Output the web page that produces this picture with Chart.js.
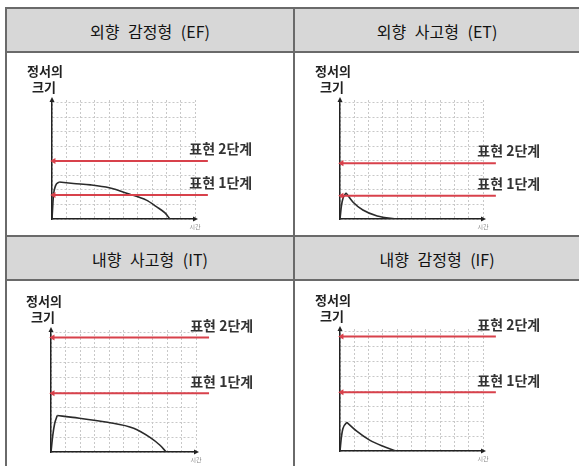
<!DOCTYPE html>
<html>
<head>
<meta charset="utf-8">
<script src="https://cdn.jsdelivr.net/npm/chart.js@4.4.1/dist/chart.umd.min.js"></script>
<style>
    body { margin: 0; width: 579px; height: 466px; overflow: hidden; background: #fff; position: relative; font-family: "Noto Sans CJK KR", sans-serif; }
    .hline { position: absolute; left: 5px; right: 0; height: 2px; background: #6a6a6a; }
    .vline { position: absolute; top: 7px; bottom: 0; width: 2px; background: #6a6a6a; }
    .head { position: absolute; height: 43px; line-height: 44px; background: #d7d7d7; font-size: 16px; color: #111; text-align: center; word-spacing: 5px; }
    canvas { position: absolute; }
</style>
</head>
<body>
<div class="head" style="left:7px;top:9px;width:286px" id="t0"></div>
<div class="head" style="left:295px;top:9px;width:284px" id="t1"></div>
<div class="head" style="left:7px;top:237px;width:286px" id="t2"></div>
<div class="head" style="left:295px;top:237px;width:284px" id="t3"></div>
<div class="hline" style="top:7px"></div>
<div class="hline" style="top:51px"></div>
<div class="hline" style="top:235px"></div>
<div class="hline" style="top:279px"></div>
<div class="vline" style="left:5px"></div>
<div class="vline" style="left:293px"></div>

<canvas id="c0" width="286" height="182" style="left:7px;top:53px"></canvas>
<canvas id="c1" width="284" height="182" style="left:295px;top:53px"></canvas>
<canvas id="c2" width="286" height="185" style="left:7px;top:281px"></canvas>
<canvas id="c3" width="284" height="185" style="left:295px;top:281px"></canvas>

<script>
// titres des 4 cases
const titles = ['외향 감정형 (EF)', '외향 사고형 (ET)', '내향 사고형 (IT)', '내향 감정형 (IF)'];

// courbes : temps (axe x, 0..10) et taille de l'émotion (axe y, 0..8)
const efTime  = [0, 0.1, 0.25, 0.5, 1.5, 2.7, 4.0, 5.4, 6.6, 7.3, 7.9, 8.25];
const efLevel = [0, 1.6, 2.3, 2.55, 2.45, 2.35, 2.15, 1.72, 1.3, 0.85, 0.42, 0];

const etTime  = [0, 0.1, 0.2, 0.42, 0.9, 1.6, 2.6, 4.0];
const etLevel = [0, 0.9, 1.4, 1.8, 1.17, 0.62, 0.21, 0];

const itTime  = [0, 0.12, 0.25, 0.43, 1.5, 3.9, 5.7, 6.8, 7.5, 7.95];
const itLevel = [0, 1.1, 1.9, 2.45, 2.33, 2.0, 1.6, 1.0, 0.47, 0];

const ifTime  = [0, 0.1, 0.2, 0.48, 1.17, 2.07, 2.97, 3.93];
const ifLevel = [0, 0.95, 1.5, 1.93, 1.33, 0.73, 0.33, 0];

// seuils "표현 2단계" / "표현 1단계"
const stage2 = [4.0, 3.85, 7.7, 7.7];
const stage1 = [1.65, 1.6, 3.95, 3.95];

const stage2Label = '표현 2단계';
const stage1Label = '표현 1단계';
const yTitle = ['정서의', '크기'];
const xTitle = '시간';

const curves = [[efTime, efLevel], [etTime, etLevel], [itTime, itLevel], [ifTime, ifLevel]];

// marges pour placer la zone du graphique dans chaque case
const paddings = [
    { left: 45, right: 98, top: 47, bottom: 16 },
    { left: 45, right: 96, top: 47, bottom: 16 },
    { left: 44, right: 97, top: 49, bottom: 14 },
    { left: 45, right: 96, top: 48, bottom: 15 }
];

const RED = '#d8414b';

// textes et flèches des axes
const decorPlugin = {
    id: 'decor',
    afterDraw(chart, args, opts) {
        const { ctx, chartArea: a, scales } = chart;
        ctx.save();
        ctx.fillStyle = '#222';
        ctx.font = 'bold 13px "Noto Sans CJK KR"';
        ctx.textAlign = 'center';
        ctx.textBaseline = 'middle';
        ctx.fillText(yTitle[0], a.left - 7, a.top - 29);
        ctx.fillText(yTitle[1], a.left - 8, a.top - 13);

        // flèche en haut de l'axe y
        ctx.beginPath();
        ctx.moveTo(a.left, a.top - 3);
        ctx.lineTo(a.left - 2.5, a.top + 2);
        ctx.lineTo(a.left + 2.5, a.top + 2);
        ctx.fill();
        // flèche au bout de l'axe x
        ctx.beginPath();
        ctx.moveTo(a.right + 3, a.bottom);
        ctx.lineTo(a.right - 2, a.bottom - 2.5);
        ctx.lineTo(a.right - 2, a.bottom + 2.5);
        ctx.fill();

        ctx.fillStyle = '#888';
        ctx.font = '6px "Noto Sans CJK KR"';
        ctx.fillText(xTitle, a.right, a.bottom + 8);

        ctx.fillStyle = '#333';
        ctx.font = 'bold 14px "Noto Sans CJK KR"';
        ctx.textAlign = 'left';
        const lx = scales.x.getPixelForValue(9.6);
        ctx.fillText(stage2Label, lx, scales.y.getPixelForValue(opts.s2) - 12);
        ctx.fillText(stage1Label, lx, scales.y.getPixelForValue(opts.s1) - 12);
        ctx.restore();
    }
};

function redLine(level) {
    return {
        data: [{ x: 0.12, y: level }, { x: 10.9, y: level }],
        borderColor: RED,
        backgroundColor: RED,
        borderWidth: 2,
        pointStyle: 'triangle',
        rotation: -90,
        pointRadius: [3.5, 0],
        pointBorderWidth: 0,
        clip: false
    };
}

function curveLine(points) {
    return {
        data: points,
        borderColor: '#2b2b2b',
        borderWidth: 1.6,
        pointRadius: 0,
        cubicInterpolationMode: 'monotone'
    };
}

function makeChart(i) {
    const [xs, ys] = curves[i];
    const points = xs.map((x, k) => ({ x, y: ys[k] }));
    // coupe la courbe au sommet pour garder une pointe nette
    const peak = ys.indexOf(Math.max(...ys));
    new Chart(document.getElementById('c' + i), {
        type: 'line',
        data: {
            datasets: [
                redLine(stage2[i]),
                redLine(stage1[i]),
                curveLine(points.slice(0, peak + 1)),
                curveLine(points.slice(peak))
            ]
        },
        options: {
            responsive: false,
            animation: false,
            devicePixelRatio: 1,
            layout: { padding: paddings[i], autoPadding: false },
            plugins: {
                legend: { display: false },
                tooltip: { enabled: false },
                decor: { s2: stage2[i], s1: stage1[i] }
            },
            scales: {
                x: {
                    type: 'linear', min: 0, max: 10,
                    ticks: { display: false, stepSize: 1 },
                    grid: { color: '#c8c8c8', drawTicks: false, lineWidth: 1 },
                    border: { color: '#222', width: 1.5, dash: [2, 2] }
                },
                y: {
                    min: 0, max: 8.2,
                    ticks: { display: false, stepSize: 1, includeBounds: false },
                    grid: { color: '#c8c8c8', drawTicks: false, lineWidth: 1 },
                    border: { color: '#222', width: 1.5, dash: [2, 2] }
                }
            }
        },
        plugins: [decorPlugin]
    });
}

titles.forEach((t, i) => {
    document.getElementById('t' + i).textContent = t;
    makeChart(i);
});
</script>
</body>
</html>
